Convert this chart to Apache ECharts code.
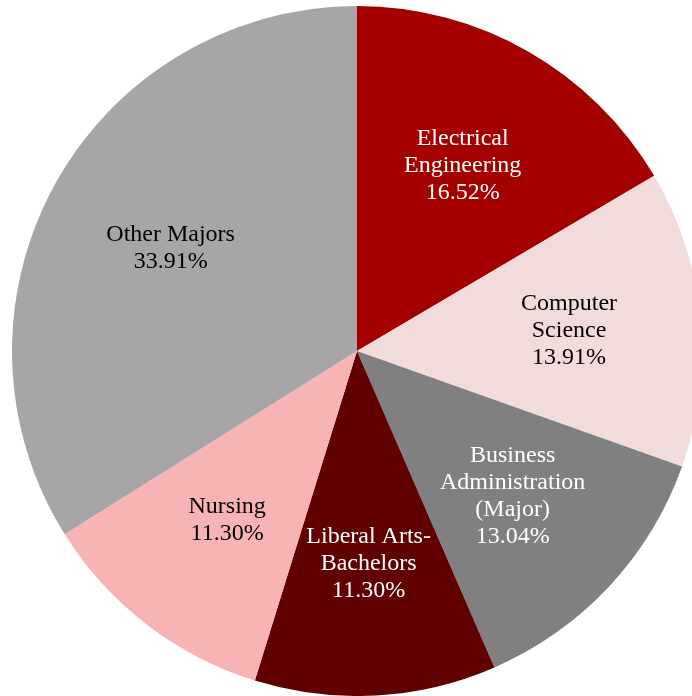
<!DOCTYPE html>
<html>
<head>
<meta charset="utf-8">
<script src="https://cdn.jsdelivr.net/npm/echarts@6/dist/echarts.min.js"></script>
<style>
html,body{margin:0;padding:0;background:#fff;}
#c{width:692px;height:696px;}
</style>
</head>
<body>
<div id="c"></div>
<script>
var categories = ['Electrical\nEngineering', 'Computer\nScience', 'Business\nAdministration\n(Major)', 'Liberal Arts-\nBachelors', 'Nursing', 'Other Majors'];
var values = [19, 16, 15, 13, 13, 39];
var colors = ['#a50000', '#f2dcdb', '#808080', '#600000', '#f8b4b4', '#a6a6a6'];
var labelColors = ['#ffffff', '#000000', '#ffffff', '#ffffff', '#000000', '#000000'];

var total = values.reduce(function(a, b){ return a + b; }, 0);
var chart = echarts.init(document.getElementById('c'), null, {renderer: 'canvas'});
var center = [357, 351];
var R = 345;

var pieData = categories.map(function(n, i){
  return {name: n, value: values[i], itemStyle: {color: colors[i]}};
});
var labelData = categories.map(function(n, i){
  return {name: n, value: values[i], itemStyle: {color: 'rgba(0,0,0,0)'},
    label: {color: labelColors[i]}};
});

chart.setOption({
  animation: false,
  series: [
    {
      type: 'pie',
      center: center,
      radius: [0, R],
      startAngle: 90,
      clockwise: true,
      silent: true,
      label: {show: false},
      labelLine: {show: false},
      itemStyle: {borderWidth: 0},
      data: pieData
    },
    {
      type: 'pie',
      center: center,
      radius: [75, R],
      startAngle: 90,
      clockwise: true,
      silent: true,
      labelLine: {show: false},
      itemStyle: {borderWidth: 0},
      label: {
        show: true,
        position: 'inside',
        fontFamily: 'Liberation Serif',
        fontSize: 24,
        lineHeight: 27,
        align: 'center',
        formatter: function(p){
          return p.name + '\n' + (p.value / total * 100).toFixed(2) + '%';
        }
      },
      data: labelData
    }
  ]
});
</script>
</body>
</html>
